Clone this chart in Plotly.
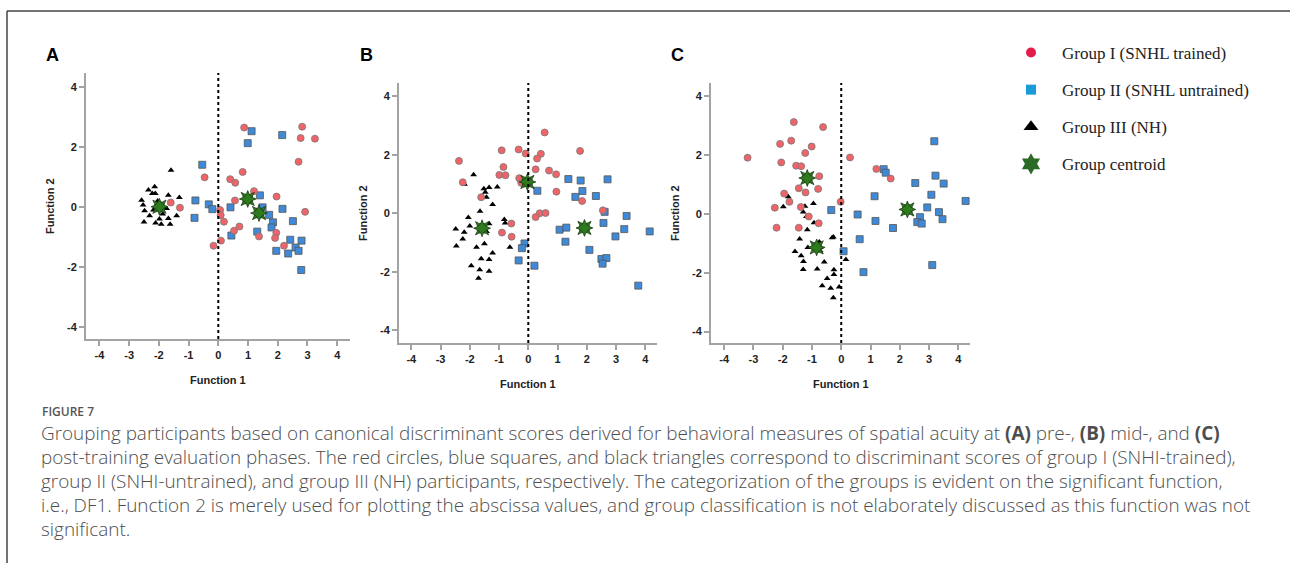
import plotly.graph_objects as go

# ---------------- data ----------------
# Panel A (pre-training)
a_g1_x = [0.87, 2.82, 2.77, 3.25, 2.70, -0.46, 0.82, 0.40, 0.57, 1.20, 1.96, 0.56, -1.60, -1.29, 0.06, 0.08, 0.19, 2.92, 0.53, 0.71, 1.95, 1.91, 1.37, 2.21, 0.09, -0.16]
a_g1_y = [2.64, 2.67, 2.29, 2.27, 1.50, 0.98, 1.16, 0.92, 0.80, 0.52, 0.34, 0.21, 0.14, -0.03, -0.11, -0.28, -0.50, -0.17, -0.80, -0.66, -0.87, -1.04, -0.99, -1.30, -1.13, -1.30]
a_g2_x = [-0.54, 1.12, 0.99, 2.15, 1.40, -0.77, -0.80, -0.32, -0.20, 0.41, 1.49, 2.16, 1.71, 1.84, 1.79, 2.51, 1.31, 0.44, 2.42, 2.80, 1.95, 2.60, 2.70, 2.35, 2.79]
a_g2_y = [1.40, 2.52, 2.12, 2.39, 0.38, 0.21, -0.37, 0.08, -0.08, -0.02, -0.02, -0.07, -0.27, -0.52, -0.69, -0.48, -0.83, -0.96, -1.10, -1.13, -1.47, -1.36, -1.47, -1.56, -2.11]
a_g3_x = [-1.59, -2.14, -2.35, -2.22, -2.12, -2.58, -1.68, -1.31, -2.53, -2.04, -2.48, -2.31, -1.74, -1.87, -1.40, -2.50, -2.11, -1.98, -1.92, -1.68, -1.62, -2.18, -1.96]
a_g3_y = [1.22, 0.67, 0.56, 0.44, 0.44, 0.22, 0.38, 0.31, 0.06, 0.19, -0.13, -0.30, -0.06, -0.24, -0.30, -0.51, -0.54, -0.41, -0.58, -0.39, -0.58, -0.11, 0.03]
a_cen_x = [-1.98, 0.99, 1.37]
a_cen_y = [0.00, 0.26, -0.21]

# Panel B (mid-training)
b_g1_x = [-2.37, -2.24, -0.91, -0.33, -0.09, 0.56, 0.43, 0.30, 0.25, -0.85, -0.99, -0.78, -0.31, 0.71, 0.95, 1.77, 0.96, 1.84, 2.55, -1.61, 0.39, 0.59, 0.25, -0.58, -0.90, -0.57, -0.24]
b_g1_y = [1.79, 1.06, 2.15, 2.18, 2.04, 2.76, 2.03, 1.87, 1.50, 1.58, 1.31, 1.30, 1.20, 1.46, 1.33, 2.13, 0.74, 0.42, 0.10, 0.55, 0.00, 0.01, -0.13, -0.35, -0.66, -0.80, 1.04]
b_g2_x = [0.31, 1.37, 1.79, 2.71, 1.85, 1.61, 2.31, 2.61, 3.36, 2.57, 3.28, 4.15, 1.07, 1.30, 2.98, 1.27, 2.09, 2.50, 2.67, 2.54, -0.13, -0.22, -0.33, 0.21, 3.76]
b_g2_y = [0.77, 1.17, 1.12, 1.16, 0.76, 0.56, 0.59, 0.05, -0.09, -0.33, -0.54, -0.62, -0.56, -0.49, -0.79, -0.97, -1.25, -1.56, -1.53, -1.72, -1.03, -1.19, -1.61, -1.79, -2.47]
b_g3_x = [-1.87, -2.18, -1.52, -1.47, -1.34, -1.06, -1.43, -1.22, -1.65, -2.05, -2.00, -2.48, -2.19, -2.24, -2.46, -1.77, -1.50, -1.22, -1.61, -1.34, -1.95, -1.66, -1.34, -1.70, -1.34, -1.43, -0.82, -0.79, -0.63]
b_g3_y = [1.32, 0.99, 0.84, 0.72, 0.88, 0.90, 0.55, 0.30, 0.07, -0.14, -0.43, -0.54, -0.65, -0.88, -1.12, -1.16, -1.04, -1.36, -1.55, -1.58, -1.79, -1.93, -1.98, -2.22, -0.36, -0.62, -0.21, -0.33, -1.16]
b_cen_x = [-1.58, -0.03, 1.92]
b_cen_y = [-0.51, 1.07, -0.50]

# Panel C (post-training)
c_g1_x = [-3.20, -1.62, -0.62, -2.09, -1.71, -1.01, -1.23, -2.05, -1.54, -1.37, -0.75, -1.45, -1.22, -0.79, -1.95, -1.77, -2.27, -1.38, -1.11, -0.77, -2.21, -1.45, -0.02, 0.30, 1.20, 1.69]
c_g1_y = [1.91, 3.12, 2.95, 2.38, 2.49, 2.29, 2.07, 1.75, 1.64, 1.62, 1.28, 0.87, 0.73, 0.85, 0.69, 0.41, 0.21, 0.23, -0.09, -0.32, -0.47, -0.47, 0.41, 1.92, 1.53, 1.20]
c_g2_x = [3.18, 3.22, 3.50, 2.53, 1.45, 1.52, 1.14, 3.08, 4.25, 2.94, 3.34, 3.46, 2.69, 2.60, 2.75, -0.34, 0.56, 1.17, 1.77, 0.63, 0.08, 3.11, 0.76]
c_g2_y = [2.47, 1.30, 1.03, 1.05, 1.52, 1.40, 0.60, 0.65, 0.44, 0.22, 0.06, -0.18, -0.11, -0.28, -0.33, 0.13, -0.02, -0.24, -0.48, -0.86, -1.27, -1.74, -1.98]
c_g3_x = [-1.81, -1.98, -1.36, -1.24, -0.95, -1.30, -1.19, -0.93, -1.16, -1.42, -1.14, -0.75, -0.72, -0.72, -1.58, -1.37, -1.29, -1.30, -0.82, -0.58, -0.27, -0.31, 0.16, -0.25, -0.25, -0.48, -0.65, -0.36, -0.07, -0.27]
c_g3_y = [0.58, 0.24, 0.26, 0.26, 0.35, 0.06, -0.09, -0.30, -0.54, -0.85, -1.14, -0.96, -1.14, -1.25, -1.28, -1.42, -1.62, -1.89, -1.87, -1.64, -0.79, -0.81, -1.55, -1.90, -2.06, -2.20, -2.44, -2.53, -2.49, -2.85]
c_cen_x = [-1.16, -0.84, 2.26]
c_cen_y = [1.22, -1.14, 0.15]

panel_labels = ["A", "B", "C"]
x_ticks = [-4, -3, -2, -1, 0, 1, 2, 3, 4]
y_ticks = [-4, -2, 0, 2, 4]
legend_names = ["Group I (SNHL trained)", "Group II (SNHL untrained)", "Group III (NH)", "Group centroid"]

caption_head = "FIGURE 7"
caption_lines = [
    "Grouping participants based on canonical discriminant scores derived for behavioral measures of spatial acuity at <b>(A)</b> pre-, <b>(B)</b> mid-, and <b>(C)</b>",
    "post-training evaluation phases. The red circles, blue squares, and black triangles correspond to discriminant scores of group I (SNHI-trained),",
    "group II (SNHI-untrained), and group III (NH) participants, respectively. The categorization of the groups is evident on the significant function,",
    "i.e., DF1. Function 2 is merely used for plotting the abscissa values, and group classification is not elaborately discussed as this function was not",
    "significant.",
]

# ---------------- layout geometry ----------------
W, H = 1290, 563
panels = [
    dict(g1=(a_g1_x, a_g1_y), g2=(a_g2_x, a_g2_y), g3=(a_g3_x, a_g3_y), cen=(a_cen_x, a_cen_y),
         px=(86, 350), py=(73, 339), xr=[-4.45, 4.43], yr=[-4.41, 4.46], lab=(52, 55)),
    dict(g1=(b_g1_x, b_g1_y), g2=(b_g2_x, b_g2_y), g3=(b_g3_x, b_g3_y), cen=(b_cen_x, b_cen_y),
         px=(399, 657), py=(83, 343), xr=[-4.42, 4.40], yr=[-4.43, 4.45], lab=(366, 55)),
    dict(g1=(c_g1_x, c_g1_y), g2=(c_g2_x, c_g2_y), g3=(c_g3_x, c_g3_y), cen=(c_cen_x, c_cen_y),
         px=(711, 970), py=(83, 343), xr=[-4.45, 4.40], yr=[-4.39, 4.45], lab=(677, 55)),
]

fig = go.Figure()
RED = "#ef6468"
BLUE = "#3f8ad8"
GREEN = "#2e7a1f"
AXC = "#a3a3a3"
ARIAL = "Arial, Liberation Sans"
annotations = []
shapes = []


def paper_text(text, px, py, size, color="#222", family=ARIAL, xanchor="center", yanchor="middle",
               weight="normal", **kw):
    return dict(text=text, x=px / W, y=1 - py / H, xref="paper", yref="paper", xanchor=xanchor,
                yanchor=yanchor, showarrow=False,
                font=dict(family=family, size=size, color=color, weight=weight), **kw)


for i, p in enumerate(panels):
    n = "" if i == 0 else str(i + 1)
    xa, ya = "x" + n, "y" + n
    fig.add_trace(go.Scatter(x=p["g3"][0], y=p["g3"][1], mode="markers", xaxis=xa, yaxis=ya, showlegend=False,
                             marker=dict(symbol="triangle-up", size=6, color="black", line=dict(width=0))))
    fig.add_trace(go.Scatter(x=p["g2"][0], y=p["g2"][1], mode="markers", xaxis=xa, yaxis=ya, showlegend=False,
                             marker=dict(symbol="square", size=7, color=BLUE, line=dict(width=0.8, color="#555"))))
    fig.add_trace(go.Scatter(x=p["g1"][0], y=p["g1"][1], mode="markers", xaxis=xa, yaxis=ya, showlegend=False,
                             marker=dict(symbol="circle", size=7, color=RED, line=dict(width=0.8, color="#777"))))
    for sym in ["star-square", "star-diamond"]:
        fig.add_trace(go.Scatter(x=p["cen"][0], y=p["cen"][1], mode="markers", xaxis=xa, yaxis=ya, showlegend=False,
                                 marker=dict(symbol=sym, size=12, color=GREEN, line=dict(width=0.8, color="#1b3a12"))))
    dom_x = [p["px"][0] / W, p["px"][1] / W]
    dom_y = [1 - p["py"][1] / H, 1 - p["py"][0] / H]
    common = dict(showgrid=False, zeroline=False, showline=True, linecolor=AXC, linewidth=2,
                  ticks="outside", ticklen=5, tickwidth=1.5, tickcolor=AXC,
                  tickfont=dict(family=ARIAL, size=11, color="#222", weight="bold"))
    fig.update_layout(**{
        "xaxis" + n: dict(domain=dom_x, range=p["xr"], tickvals=x_ticks, ticktext=[str(v) for v in x_ticks],
                          anchor=ya, **common),
        "yaxis" + n: dict(domain=dom_y, range=p["yr"], tickvals=y_ticks, ticktext=[str(v) for v in y_ticks],
                          anchor=xa, **common),
    })
    shapes.append(dict(type="line", xref=xa, yref=ya + " domain", x0=0, x1=0, y0=0, y1=1,
                       line=dict(color="black", width=2, dash="dot")))
    cx = (p["px"][0] + p["px"][1]) / 2
    annotations.append(paper_text("<b>Function 1</b>", cx, p["py"][1] + 41, 11))
    cy = (p["py"][0] + p["py"][1]) / 2
    annotations.append(paper_text("<b>Function 2</b>", p["px"][0] - 36, cy, 11, textangle=-90))
    annotations.append(paper_text("<b>" + panel_labels[i] + "</b>", p["lab"][0], p["lab"][1], 18, color="black"))

# legend entries
leg_styles = [
    dict(symbol="circle", size=10, color="#e31c4c"),
    dict(symbol="square", size=10, color="#1a9ad6"),
    dict(symbol="triangle-up", size=13, color="black"),
    dict(symbol="hexagram", size=16, color="#2c6b26"),
]
for k, (name, st) in enumerate(zip(legend_names, leg_styles)):
    fig.add_trace(go.Scatter(x=[None], y=[None], mode="markers", name=name, legendgroup=str(k),
                             marker=dict(line=dict(width=0), **st)))

# caption
annotations.append(paper_text(caption_head, 40, 411, 12, color="#555", family="Open Sans", xanchor="left",
                              weight=600))
for j, line in enumerate(caption_lines):
    annotations.append(paper_text(line, 39, 433 + 24 * j, 18.9, color="#4d4d4d", family="Open Sans",
                                  xanchor="left", weight=300))

# figure border lines
shapes.append(dict(type="line", xref="paper", yref="paper", x0=7 / W, x1=1, y0=1 - 11 / H, y1=1 - 11 / H,
                   line=dict(color="#444", width=1.5)))
shapes.append(dict(type="line", xref="paper", yref="paper", x0=7 / W, x1=7 / W, y0=0, y1=1 - 11 / H,
                   line=dict(color="#444", width=1.5)))

fig.update_layout(
    width=W, height=H, margin=dict(l=0, r=0, t=0, b=0),
    paper_bgcolor="white", plot_bgcolor="white",
    annotations=annotations, shapes=shapes,
    legend=dict(x=1000 / W, y=1 - 35 / H, xanchor="left", yanchor="top", traceorder="grouped",
                tracegroupgap=12, itemsizing="trace", itemwidth=52,
                font=dict(family="Liberation Serif, Times New Roman", size=17, color="#222"),
                bgcolor="rgba(0,0,0,0)"),
)

fig.write_html("out.html")
